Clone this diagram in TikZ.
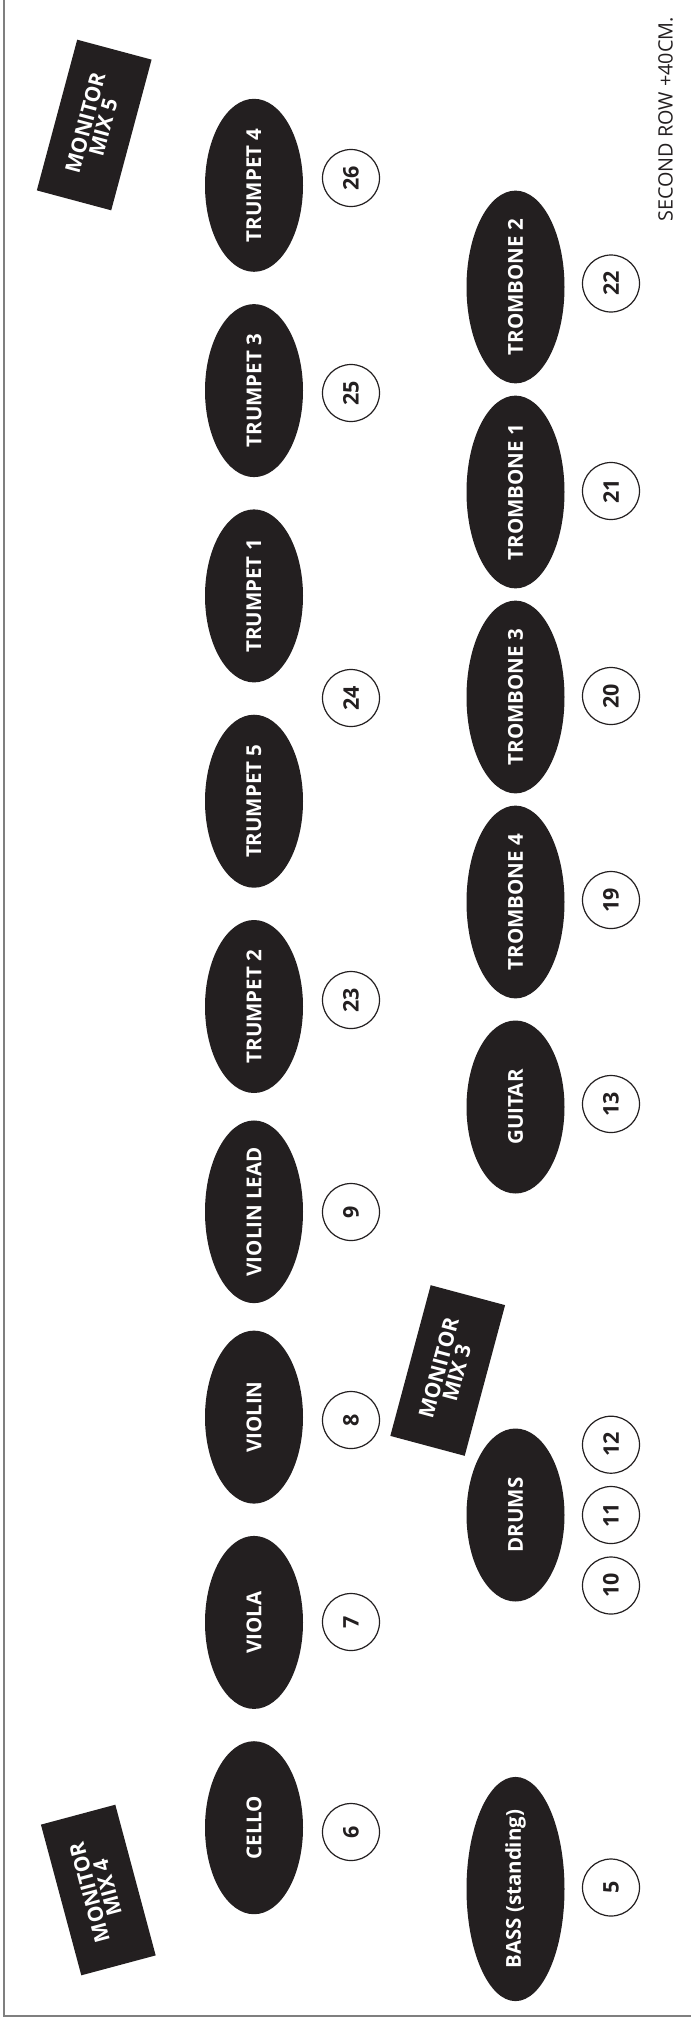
\documentclass[tikz,border=0pt]{standalone}
\usepackage{fontspec}
\setmainfont{Open Sans}
\usetikzlibrary{shapes.geometric}
\definecolor{ink}{HTML}{231F20}
\definecolor{framegray}{HTML}{7F7F7F}
\begin{document}
\begin{tikzpicture}[x=1pt,y=-1pt,
  player/.style={ellipse, fill=ink, text=white, rotate=90, minimum width=173pt, minimum height=98pt, inner sep=0pt, font=\bfseries\fontsize{20.5}{22}\selectfont},
  chan/.style={circle, draw=ink, line width=1.2pt, fill=white, minimum size=57pt, inner sep=0pt, rotate=90, text=ink, font=\bfseries\fontsize{21.5}{22}\selectfont},
  monitor/.style={rectangle, fill=ink, text=white, minimum width=156pt, minimum height=77pt, inner sep=0pt, align=center, font=\bfseries\fontsize{21}{18.5}\selectfont},
  note/.style={rotate=90, inner sep=0pt, text=ink, font=\fontsize{19.8}{22}\selectfont}]
\useasboundingbox (0,0) rectangle (691,2022);
% frame
\coordinate (ftop) at (4,0);
\coordinate (fcorner) at (4,2016);
\coordinate (fright) at (691,2016);
\draw[framegray, line width=1.3pt] (ftop) -- (fcorner) -- (fright);
% monitors
\node[monitor, rotate=75] (mm5) at (94.2,125) {MONITOR\\MIX 5};
\node[monitor, rotate=75] (mm3) at (447.7,1370.5) {MONITOR\\MIX 3};
\node[monitor, rotate=105] (mm4) at (98.3,1890) {MONITOR\\MIX 4};
% first row
\node[player] (tp4) at (254,185.3) {TRUMPET 4};
\node[player] (tp3) at (254,390.6) {TRUMPET 3};
\node[player] (tp1) at (254,595.9) {TRUMPET 1};
\node[player] (tp5) at (254,801.2) {TRUMPET 5};
\node[player] (tp2) at (254,1006.5) {TRUMPET 2};
\node[player] (vlead) at (254,1211.8) {VIOLIN LEAD};
\node[player] (vln) at (254,1417.1) {VIOLIN};
\node[player] (vla) at (254,1622.4) {VIOLA};
\node[player] (vc) at (254,1827.7) {CELLO};
\node[chan] (c26) at (351,178) {26};
\node[chan] (c25) at (351,393) {25};
\node[chan] (c24) at (351,698) {24};
\node[chan] (c23) at (351,1000) {23};
\node[chan] (c9) at (351,1212) {9};
\node[chan] (c8) at (351,1420) {8};
\node[chan] (c7) at (351,1622) {7};
\node[chan] (c6) at (351,1832) {6};
% second row
\node[player] (tb2) at (515.5,287) {TROMBONE 2};
\node[player] (tb1) at (515.5,492) {TROMBONE 1};
\node[player] (tb3) at (515.5,697) {TROMBONE 3};
\node[player] (tb4) at (515.5,902) {TROMBONE 4};
\node[player] (gtr) at (515.5,1107) {GUITAR};
\node[player] (drm) at (515.5,1515) {DRUMS};
\node[player] (bass) at (515.5,1889) {BASS (standing)};
\node[chan] (c22) at (611,283.5) {22};
\node[chan] (c21) at (611,491) {21};
\node[chan] (c20) at (611,696) {20};
\node[chan] (c19) at (611,900) {19};
\node[chan] (c13) at (611,1104) {13};
\node[chan] (c12) at (611,1444.7) {12};
\node[chan] (c11) at (611,1515) {11};
\node[chan] (c10) at (611,1585.5) {10};
\node[chan] (c5) at (611,1887.5) {5};
% note
\node[note] (nt) at (665.5,119.5) {SECOND ROW +40CM.};
\end{tikzpicture}
\end{document}
